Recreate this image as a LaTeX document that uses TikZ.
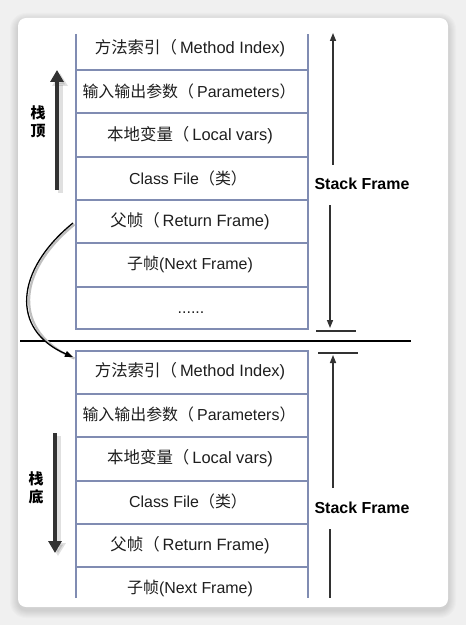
\documentclass[tikz,border=0pt]{standalone}
\usepackage{fontspec}
\setmainfont{Liberation Sans}
\newfontfamily\cjk{Noto Sans CJK SC}
\usetikzlibrary{arrows.meta,calc}
\definecolor{bgc}{RGB}{240,240,240}
\definecolor{boxline}{RGB}{128,140,178}
\definecolor{txt}{RGB}{30,30,30}
\definecolor{arr}{RGB}{50,50,50}
\newcommand{\lp}{{\cjk （}\hspace{3bp}}
\begin{document}
\begin{tikzpicture}[x=1bp,y=-1bp,
  rowtext/.style={text=txt,font=\fontsize{16.5}{19}\selectfont,inner sep=0pt,anchor=center},
  rowsmall/.style={text=txt,font=\fontsize{16}{19}\selectfont,inner sep=0pt,anchor=center},
  boxln/.style={draw=boxline,line width=1.1bp},
  thin arrow/.style={draw=arr,line width=1.4bp,-{Triangle[length=8bp,width=6bp]}},
  thick arrow/.style={draw=arr,line width=3.6bp,-{Triangle[length=12bp,width=13bp]}},
  thick shadow/.style={draw=black,opacity=0.12,line width=5bp,-{Triangle[length=13bp,width=15bp]}},
  sflabel/.style={text=black,font=\bfseries\fontsize{16}{19}\selectfont,inner sep=0pt},
  sidelabel/.style={text=black,font=\cjk\bfseries\fontsize{15}{18.5}\selectfont,align=center,inner sep=0pt},
  bar/.style={draw=arr,line width=1.4bp}
]
\useasboundingbox (0,0) rectangle (466,625);
\fill[bgc] (0,0) rectangle (466,625);
% card shadow
\foreach \i in {1,...,8}{
  \fill[black,opacity=0.016,rounded corners={8bp+\i bp}] (18-\i,18-\i+3) rectangle (448+\i,607+\i+3);
}
\fill[white,rounded corners=8bp] (18,18) rectangle (448,607);

% ---------- top stack ----------
\draw[boxln] (76,34) -- (76,329) -- (308,329) -- (308,34);
\foreach \yy in {70,113,157,200,243,287}{ \draw[boxln] (76,\yy) -- (308,\yy); }
\node[rowtext] (t1) at (190,48) {{\cjk 方法索引}\lp Method Index)};
\node[rowsmall] (t2) at (189,91) {{\cjk 输入输出参数}\lp Parameters{\cjk ）}};
\node[rowtext] (t3) at (190,135) {{\cjk 本地变量}\lp Local vars)};
\node[rowsmall] (t4) at (188,178) {Class File{\cjk （类）}};
\node[rowtext] (t5) at (190,221) {{\cjk 父帧}\lp Return Frame)};
\node[rowsmall] (t6) at (190,264) {{\cjk 子帧}(Next Frame)};
\node[rowsmall,anchor=base] (t7) at (191,313) {......};

% ---------- divider ----------
\coordinate (dl) at (20,341);
\coordinate (dr) at (411,341);
\draw[black,line width=2bp] (dl) -- (dr);

% ---------- bottom stack ----------
\draw[boxln] (76,598) -- (76,351) -- (308,351) -- (308,598);
\foreach \yy in {394,437,481,524,567}{ \draw[boxln] (76,\yy) -- (308,\yy); }
\node[rowtext] (b1) at (190,371) {{\cjk 方法索引}\lp Method Index)};
\node[rowsmall] (b2) at (189,414) {{\cjk 输入输出参数}\lp Parameters{\cjk ）}};
\node[rowtext] (b3) at (190,458) {{\cjk 本地变量}\lp Local vars)};
\node[rowsmall] (b4) at (188,501) {Class File{\cjk （类）}};
\node[rowtext] (b5) at (190,545) {{\cjk 父帧}\lp Return Frame)};
\node[rowsmall] (b6) at (190,588) {{\cjk 子帧}(Next Frame)};

% ---------- right side ----------
\node[sflabel] (sf1) at (362,184) {Stack Frame};
\node[sflabel] (sf2) at (362,508) {Stack Frame};
\coordinate (ua1) at (333,165);
\coordinate (ua2) at (333,33);
\draw[thin arrow] (ua1) -- (ua2);
\coordinate (da1) at (330,205);
\coordinate (da2) at (330,328);
\draw[thin arrow] (da1) -- (da2);
\coordinate (bar1l) at (316,331);
\coordinate (bar1r) at (356,331);
\draw[bar] (bar1l) -- (bar1r);
\coordinate (bar2l) at (318,353);
\coordinate (bar2r) at (358,353);
\draw[bar] (bar2l) -- (bar2r);
\coordinate (ub1) at (333,488);
\coordinate (ub2) at (333,355);
\draw[thin arrow] (ub1) -- (ub2);
\coordinate (lb1) at (330,529);
\coordinate (lb2) at (330,598);
\draw[bar] (lb1) -- (lb2);

% ---------- left side ----------
\node[sidelabel] (top) at (38,122) {栈\\顶};
\node[sidelabel] (bot) at (36,488) {栈\\底};
\coordinate (la1) at (57,190);
\coordinate (la2) at (57,70);
\draw[thick shadow] ($(la1)+(3,3)$) -- ($(la2)+(3,3)$);
\draw[thick arrow] (la1) -- (la2);
\coordinate (lb1s) at (55,433);
\coordinate (lb2s) at (55,553);
\draw[thick shadow] ($(lb1s)+(3,3)$) -- ($(lb2s)+(3,3)$);
\draw[thick arrow] (lb1s) -- (lb2s);

% ---------- curved arrow ----------
\coordinate (c1) at (73,223);
\coordinate (c2) at (73,357);
\draw[black!25,line width=2.2bp] ($(c1)+(1.5,1.5)$) .. controls (16.5,271.5) and (11.5,331.5) .. ($(c2)+(1.5,1.5)$);
\draw[black,line width=1.3bp,-{Triangle[length=8bp,width=6bp]}] (c1) .. controls (15,270) and (10,330) .. (c2);
\end{tikzpicture}
\end{document}
